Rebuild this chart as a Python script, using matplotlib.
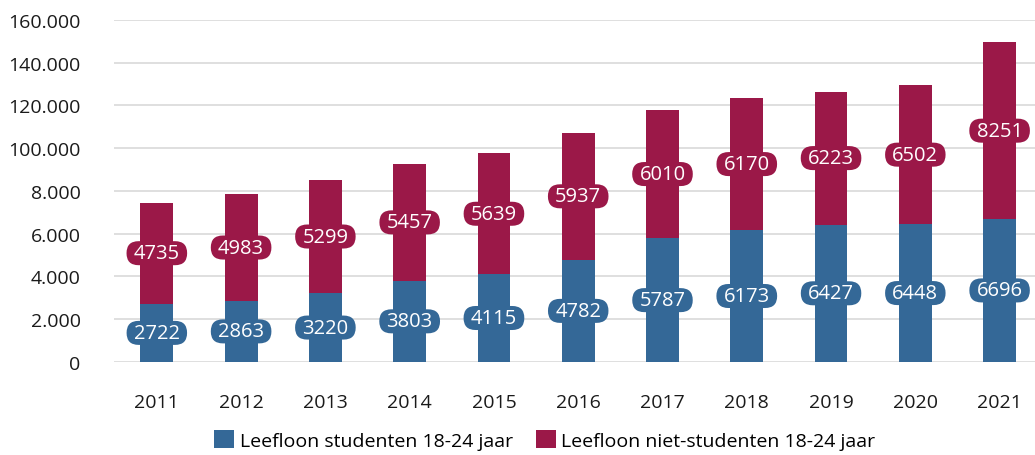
import matplotlib
matplotlib.use("Agg")
import matplotlib.pyplot as plt
from matplotlib.patches import Patch, BoxStyle

years = ["2011", "2012", "2013", "2014", "2015", "2016", "2017", "2018", "2019", "2020", "2021"]
studenten = [2722, 2863, 3220, 3803, 4115, 4782, 5787, 6173, 6427, 6448, 6696]
niet_studenten = [4735, 4983, 5299, 5457, 5639, 5937, 6010, 6170, 6223, 6502, 8251]
ytick_values = [0, 2000, 4000, 6000, 8000, 10000, 12000, 14000, 16000]
ytick_labels = ["0", "2.000", "4.000", "6.000", "8.000", "100.000", "120.000", "140.000", "160.000"]
series_names = ["Leefloon studenten 18-24 jaar", "Leefloon niet-studenten 18-24 jaar"]

BLUE = "#346897"
RED = "#9B1848"
FONT = ["Open Sans", "DejaVu Sans"]
plt.rcParams['font.family'] = FONT


def pill(x0, y0, width, height, mutation_size):
    padx = 0.36 * mutation_size
    pady = 0.1 * mutation_size
    h = height + 2 * pady
    r = (h / 2) / mutation_size
    return BoxStyle.Round(pad=0, rounding_size=r)(
        x0 - padx, y0 - pady, width + 2 * padx, h, mutation_size)


fig = plt.figure(figsize=(10.35, 4.56), dpi=100)
ax = fig.add_axes([0.110, 0.204, 0.890, 0.750])

x = list(range(len(years)))
w = 0.39
ax.bar(x, studenten, width=w, color=BLUE, zorder=3)
ax.bar(x, niet_studenten, width=w, bottom=studenten, color=RED, zorder=3)

for i in x:
    s = studenten[i]
    n = niet_studenten[i]
    ax.text(i, s / 2, str(s), ha="center", va="center", color="white", fontsize=14.5, zorder=5,
            bbox=dict(boxstyle=pill, fc=BLUE, ec="none"))
    ax.text(i, s + n / 2, str(n), ha="center", va="center", color="white", fontsize=14.5, zorder=5,
            bbox=dict(boxstyle=pill, fc=RED, ec="none"))

ax.set_xlim(-0.51, 10.42)
ax.set_ylim(0, 16000)
ax.set_yticks(ytick_values)
ax.set_yticklabels(ytick_labels)
ax.set_xticks(x)
ax.set_xticklabels(years)
ax.tick_params(axis="y", length=0, pad=24, labelsize=14, labelcolor="#1a1a1a")
ax.tick_params(axis="x", length=0, pad=22, labelsize=14, labelcolor="#1a1a1a")
ax.yaxis.grid(True, color="#d9d9d9", linewidth=1.2, zorder=0)
ax.set_axisbelow(True)
for sp in ax.spines.values():
    sp.set_visible(False)

handles = [Patch(facecolor=BLUE, edgecolor="none"), Patch(facecolor=RED, edgecolor="none")]
fig.legend(handles, series_names, loc="center", bbox_to_anchor=(545 / 1035, 1 - 441 / 456),
           ncol=2, frameon=False, fontsize=14, handlelength=1.0, handleheight=1.0,
           handletextpad=0.3, columnspacing=1.2, borderaxespad=0)

fig.savefig("out.png", dpi=100)
